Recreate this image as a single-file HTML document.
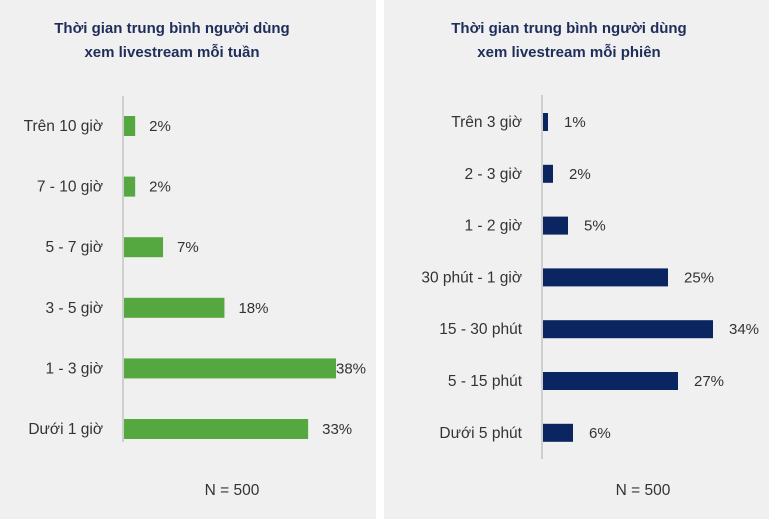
<!DOCTYPE html>
<html><head><meta charset="utf-8"><style>
body{margin:0;width:769px;height:519px;background:#fff;overflow:hidden;font-family:"Liberation Sans","DejaVu Sans",sans-serif}
svg{display:block}
</style></head><body>
<svg width="769" height="519">
<rect x="0" y="0" width="376" height="519" fill="#f0f0f0"/>
<rect x="384" y="0" width="385" height="519" fill="#f0f0f0"/>
<g font-weight="bold" font-size="15" fill="#1f2d5a" text-anchor="middle">
<text x="172" y="33">Thời gian trung bình người dùng</text>
<text x="172" y="57">xem livestream mỗi tuần</text>
<text x="569" y="33">Thời gian trung bình người dùng</text>
<text x="569" y="57">xem livestream mỗi phiên</text>
</g>
<g font-size="15.5" fill="#333" text-anchor="middle">
<text x="232" y="495">N = 500</text>
<text x="643" y="495">N = 500</text>
</g>
<g id="left"></g><g id="right"></g>
</svg>
<script>
const weekCats=["Trên 10 giờ","7 - 10 giờ","5 - 7 giờ","3 - 5 giờ","1 - 3 giờ","Dưới 1 giờ"];
const weekVals=[2,2,7,18,38,33];
const sessCats=["Trên 3 giờ","2 - 3 giờ","1 - 2 giờ","30 phút - 1 giờ","15 - 30 phút","5 - 15 phút","Dưới 5 phút"];
const sessVals=[1,2,5,25,34,27,6];
const NS="http://www.w3.org/2000/svg";
function mk(tag,attrs,parent){const e=document.createElementNS(NS,tag);for(const k in attrs)e.setAttribute(k,attrs[k]);parent.appendChild(e);return e;}
function draw(gid,cats,vals,o){
 const g=document.getElementById(gid);
 const xs=v=>o.x0+v*o.scale;
 const ys=i=>o.yTop+i*o.step;
 const ax=mk('line',{x1:o.x0,x2:o.x0,y1:o.axTop,y2:o.axBot,stroke:'#cfcfcf','stroke-width':2},g);
 
 
 cats.forEach((c,i)=>{
  const y=ys(i);
  const r=mk('rect',{x:o.x0+1,y:y-o.bh/2,width:xs(vals[i])-o.x0,height:o.bh,fill:o.color},g);
  
  
  const t=mk('text',{x:o.x0-20,y:y+5,'text-anchor':'end','font-size':15.5,fill:'#333'},g);
  t.textContent=c;
  
  
  const v=mk('text',{x:Math.min(xs(vals[i])+o.gap,o.maxLabelX),y:y+5,'font-size':15,fill:'#333'},g);
  v.textContent=vals[i]+'%';
  
  
 });
}
draw('left',weekCats,weekVals,{p:'weekly',x0:123,scale:5.58,yTop:126,step:60.6,bh:20,axTop:96,axBot:442,color:'#55a73f',gap:15,maxLabelX:336});
draw('right',sessCats,sessVals,{p:'session',x0:542,scale:5.0,yTop:122,step:51.8,bh:18,axTop:95,axBot:459,color:'#0b2560',gap:17,maxLabelX:730});
</script>
</body></html>
